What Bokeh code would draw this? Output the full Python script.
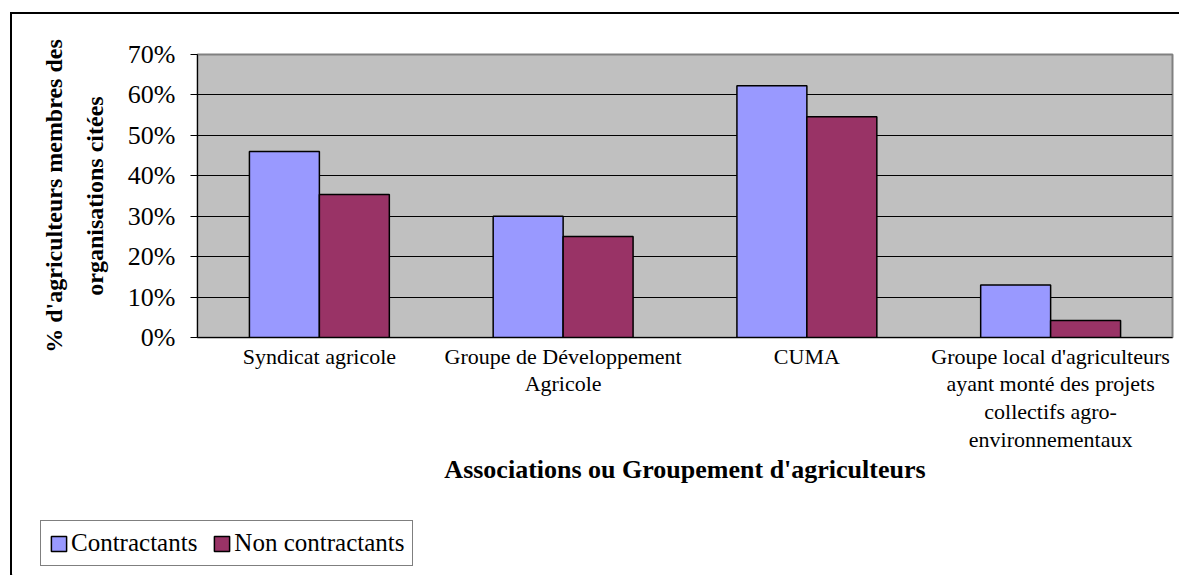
from bokeh.plotting import figure
from bokeh.layouts import column, row
from bokeh.models import (FactorRange, Range1d, LinearAxis, FixedTicker, Legend,
                          LegendItem, ColumnDataSource)
from bokeh.transform import dodge
from bokeh.embed import file_html
from bokeh.resources import INLINE

# ---- data ----
categories = [
    "Syndicat agricole",
    "Groupe de Développement\nAgricole",
    "CUMA",
    "Groupe local d'agriculteurs\nayant monté des projets\ncollectifs agro-\nenvironnementaux",
]
contractants = [46.0, 30.0, 62.3, 13.0]
non_contractants = [35.4, 25.0, 54.6, 4.2]
series_names = ["Contractants", "Non contractants"]
y_ticks = [0, 10, 20, 30, 40, 50, 60, 70]
y_tick_labels = ["0%", "10%", "20%", "30%", "40%", "50%", "60%", "70%"]
x_title = "Associations ou Groupement d'agriculteurs"
y_title_line1 = "% d'agriculteurs membres des"
y_title_line2 = "organisations citées"

FONT = "Liberation Serif"
BLUE = "#9999FF"
PLUM = "#993366"

src = ColumnDataSource(dict(cat=categories, c=contractants, n=non_contractants))

p = figure(
    x_range=FactorRange(factors=categories, range_padding=0),
    y_range=Range1d(0, 70),
    width=1167, height=500,
    output_backend="svg", toolbar_location=None,
    min_border_left=185, min_border_top=40, min_border_bottom=177, min_border_right=7,
)

p.background_fill_color = "#C0C0C0"
p.border_fill_color = "white"
p.outline_line_color = "#808080"
p.outline_line_width = 2

bw = 0.287
r1 = p.vbar(x=dodge("cat", -bw / 2, range=p.x_range), top="c", width=bw, source=src,
            fill_color=BLUE, line_color="black", line_width=1.5)
r2 = p.vbar(x=dodge("cat", bw / 2, range=p.x_range), top="n", width=bw, source=src,
            fill_color=PLUM, line_color="black", line_width=1.5)

# grid
p.xgrid.grid_line_color = None
p.ygrid.grid_line_color = "black"
p.ygrid.grid_line_width = 1
p.ygrid.ticker = FixedTicker(ticks=y_ticks)

# y axis
ya = p.yaxis[0]
ya.ticker = FixedTicker(ticks=y_ticks)
ya.major_label_overrides = {t: l for t, l in zip(y_ticks, y_tick_labels)}
ya.axis_line_color = "black"
ya.major_tick_line_color = "black"
ya.major_tick_out = 7
ya.major_tick_in = 0
ya.minor_tick_line_color = None
ya.major_label_text_font = FONT
ya.major_label_text_font_size = "26px"
ya.major_label_text_color = "black"
ya.major_label_standoff = 15
ya.axis_label = y_title_line2
ya.axis_label_text_font = FONT
ya.axis_label_text_font_style = "bold"
ya.axis_label_text_font_size = "24px"
ya.axis_label_text_color = "black"
ya.axis_label_standoff = 17

ya2 = LinearAxis(ticker=FixedTicker(ticks=[]), axis_line_color=None,
                 major_tick_line_color=None, minor_tick_line_color=None,
                 axis_label=y_title_line1, axis_label_text_font=FONT,
                 axis_label_text_font_style="bold", axis_label_text_font_size="24px",
                 axis_label_text_color="black", axis_label_standoff=12,
                 major_label_text_font_size="0px")
p.add_layout(ya2, "left")

# x axis
xa = p.xaxis[0]
xa.axis_line_color = "black"
xa.major_tick_line_color = None
xa.minor_tick_line_color = None
xa.major_label_text_font = FONT
xa.major_label_text_font_size = "22px"
xa.major_label_text_line_height = 1.11
xa.major_label_text_color = "black"
xa.major_label_standoff = 0
xa.axis_label = x_title
xa.axis_label_text_font = FONT
xa.axis_label_text_font_style = "bold"
xa.axis_label_text_font_size = "26px"
xa.axis_label_text_color = "black"
xa.axis_label_standoff = 0

# ---- legend strip (separate small figure, same glyph styles) ----
lg = figure(width=430, height=61, output_backend="svg", toolbar_location=None,
            x_axis_type=None, y_axis_type=None, min_border=0,
            x_range=Range1d(0, 1), y_range=Range1d(0, 1))
lg.outline_line_color = None
lg.background_fill_color = "white"
lg.border_fill_color = "white"
lg.xgrid.grid_line_color = None
lg.ygrid.grid_line_color = None
# swatch renderers kept outside the visible range: only their legend glyphs show
k1 = lg.vbar(x=[-5], top=[-5], bottom=[-6], width=0.1, fill_color=BLUE,
             line_color="black", line_width=1.5)
k2 = lg.vbar(x=[-5], top=[-5], bottom=[-6], width=0.1, fill_color=PLUM,
             line_color="black", line_width=1.5)

legend = Legend(
    items=[LegendItem(label=series_names[0], renderers=[k1]),
           LegendItem(label=series_names[1], renderers=[k2])],
    location=(28, 9), orientation="horizontal",
    border_line_color="black", border_line_width=1,
    background_fill_color="white", background_fill_alpha=1,
    label_text_font=FONT, label_text_font_size="25px", label_text_color="black",
    glyph_width=19, glyph_height=19, label_standoff=3, spacing=15,
    padding=8, margin=0,
)
lg.add_layout(legend)

layout = column(p, row(lg), spacing=0)
layout.styles = {"border-top": "2px solid black", "border-left": "2px solid black"}
layout.margin = (12, 0, 0, 10)

open("out.html", "w").write(file_html(layout, INLINE))
